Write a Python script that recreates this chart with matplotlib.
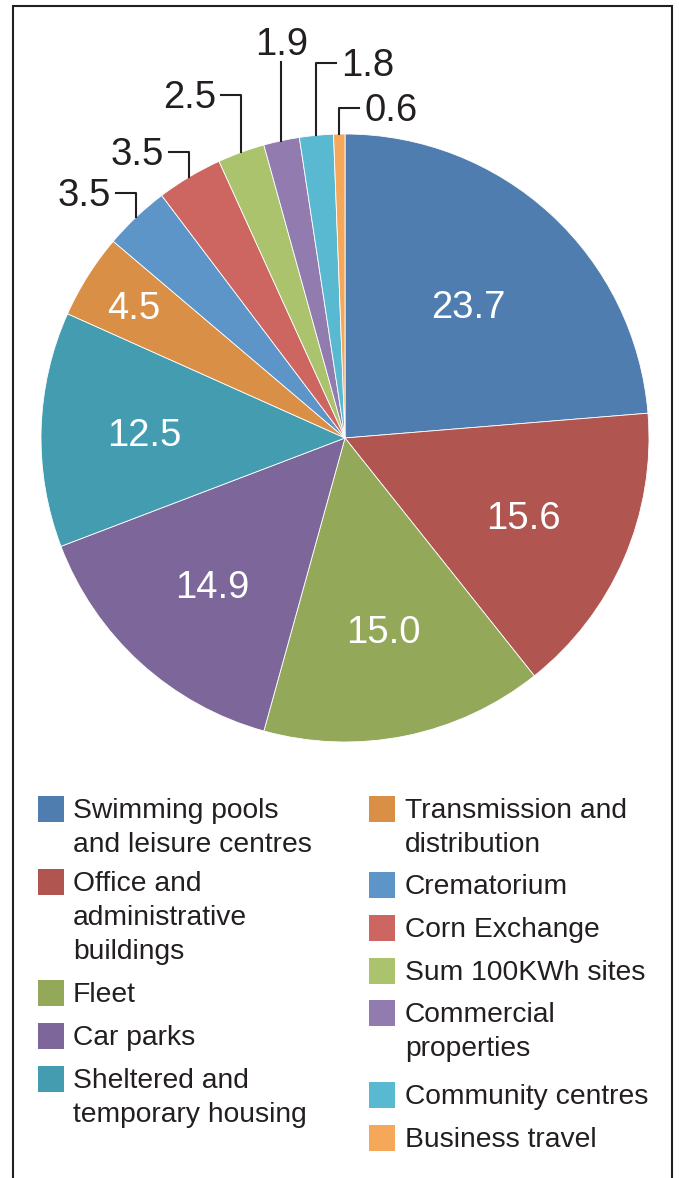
import numpy as np
import matplotlib
matplotlib.use("Agg")
import matplotlib.pyplot as plt
from matplotlib.patches import Rectangle

plt.rcParams["font.family"] = ["Liberation Sans", "DejaVu Sans"]

# data
categories = [
    "Swimming pools\nand leisure centres",
    "Office and\nadministrative\nbuildings",
    "Fleet",
    "Car parks",
    "Sheltered and\ntemporary housing",
    "Transmission and\ndistribution",
    "Crematorium",
    "Corn Exchange",
    "Sum 100KWh sites",
    "Commercial\nproperties",
    "Community centres",
    "Business travel",
]
values = [23.7, 15.6, 15.0, 14.9, 12.5, 4.5, 3.5, 3.5, 2.5, 1.9, 1.8, 0.6]
value_labels = ["23.7", "15.6", "15.0", "14.9", "12.5", "4.5",
                "3.5", "3.5", "2.5", "1.9", "1.8", "0.6"]
colors = ["#4F7DB0", "#B0554F", "#94A85A", "#7D6699", "#449CB0", "#D98F45",
          "#5E95C9", "#CD6660", "#AAC36C", "#917BAF", "#58B9D1", "#F6A85A"]

# layout (pixels, y measured from top)
W, H = 679, 1178
CX, CY, R = 345, 438, 304
inner_dist = [0.60, 0.64, 0.64, 0.65, 0.66, 0.82]
outer_elbow = [193, 152, 95, 62, 63, 108]
outer_side = ["left", "left", "left", "top", "right", "right"]
legend_left_tops = [796, 869, 980, 1023, 1066]
legend_right_tops = [796, 872, 915, 958, 1000, 1082, 1125]
INK = "#231F20"
VAL_SIZE = 27.5


def py(y):
    return H - y


fig = plt.figure(figsize=(W / 100, H / 100), dpi=100)
ax = fig.add_axes([0, 0, 1, 1])

wedges, _ = ax.pie(values, colors=colors, startangle=90, counterclock=False,
                   center=(CX, py(CY)), radius=R,
                   wedgeprops=dict(edgecolor="white", linewidth=0.6))
ax.set_xlim(0, W)
ax.set_ylim(0, H)
ax.set_aspect("auto")
ax.axis("off")

n_inner = len(inner_dist)
for i, w in enumerate(wedges):
    ang = np.radians((w.theta1 + w.theta2) / 2)
    if i < n_inner:
        d = inner_dist[i] * R
        x = CX + d * np.cos(ang)
        y = py(CY) + d * np.sin(ang)
        ax.text(x, y - 14, value_labels[i], ha="center", va="baseline",
                fontsize=VAL_SIZE, color="white")
    else:
        j = i - n_inner
        ex = CX + R * np.cos(ang)
        ey = CY - R * np.sin(ang)
        e = outer_elbow[j]
        side = outer_side[j]
        if side == "top":
            ax.plot([ex, ex], [py(ey), py(e)], color=INK, lw=1.5)
            ax.text(ex, py(e - 7), value_labels[i], ha="center", va="baseline",
                    fontsize=VAL_SIZE, color=INK)
        else:
            sgn = -1 if side == "left" else 1
            ax.plot([ex, ex, ex + sgn * 20], [py(ey), py(e), py(e)],
                    color=INK, lw=1.5)
            ax.text(ex + sgn * 25, py(e + 13), value_labels[i],
                    ha="right" if side == "left" else "left", va="baseline",
                    fontsize=VAL_SIZE, color=INK)

# legend, two columns
n_left = len(legend_left_tops)
for col, (tops, sq_x, tx) in enumerate([(legend_left_tops, 38, 73),
                                        (legend_right_tops, 369, 405)]):
    idx = range(0, n_left) if col == 0 else range(n_left, len(categories))
    for top, i in zip(tops, idx):
        ax.add_patch(Rectangle((sq_x, py(top + 26)), 26, 26,
                               facecolor=colors[i], edgecolor="none"))
        for k, line in enumerate(categories[i].split("\n")):
            ax.text(tx, py(top + 22 + 34 * k), line, va="baseline",
                    fontsize=20.3, color=INK)

# frame (open at the bottom)
ax.plot([13, 13, 672, 672], [0, py(6), py(6), 0], color=INK, lw=1.5,
        solid_joinstyle="miter")

fig.savefig("out.png", dpi=100)
